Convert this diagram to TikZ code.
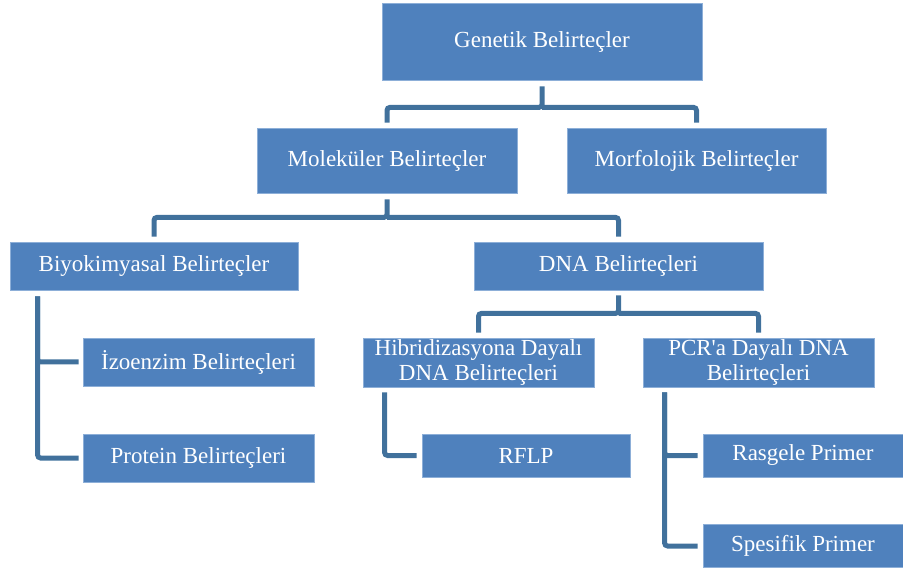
\documentclass[tikz,border=0pt]{standalone}
\usepackage{fontspec}
\setmainfont{Liberation Serif}
\definecolor{boxfill}{HTML}{4F81BD}
\definecolor{boxedge}{HTML}{8DAFD8}
\definecolor{linecol}{HTML}{41719C}
\begin{document}
\begin{tikzpicture}[x=1pt,y=-1pt,
  box/.style={rectangle,fill=boxfill,draw=boxedge,line width=0.8pt,text=white,
    inner sep=0pt,align=center,font=\fontsize{23}{25}\selectfont},
  conn/.style={draw=linecol,line width=5pt,rounded corners=3pt}]
\useasboundingbox (0,0) rectangle (903,569);
\node[box,minimum width=320,minimum height=77] (G) at (542,41.5) {Genetik Belirteçler};
\node[box,minimum width=260,minimum height=65] (Mo) at (387,160.5) {Moleküler Belirteçler};
\node[box,minimum width=259,minimum height=65] (Mf) at (696.5,160.5) {Morfolojik Belirteçler};
\node[box,minimum width=288,minimum height=48] (B) at (154,266) {Biyokimyasal Belirteçler};
\node[box,minimum width=289,minimum height=48] (D) at (618.5,266) {DNA Belirteçleri};
\node[box,minimum width=231,minimum height=48] (Iz) at (198.5,362) {İzoenzim Belirteçleri};
\node[box,minimum width=231,minimum height=48] (Pr) at (198.5,458) {Protein Belirteçleri};
\node[box,minimum width=231,minimum height=49] (H) at (478.5,362.5) {Hibridizasyona Dayalı\\DNA Belirteçleri};
\node[box,minimum width=231,minimum height=49] (P) at (758.5,362.5) {PCR\textquotesingle a Dayalı DNA\\Belirteçleri};
\node[box,minimum width=208,minimum height=43] (R) at (526,455.5) {RFLP};
\node[box,minimum width=200,minimum height=43] (Ra) at (803,455.5) {Rasgele Primer};
\node[box,minimum width=200,minimum height=43] (Sp) at (803,546) {Spesifik Primer};

\draw[conn] ([yshift=-6pt]G.south) -- ([yshift=-27pt]G.south) -| ([yshift=5pt]Mo.north);
\draw[conn] ([yshift=-27pt]G.south) -| ([yshift=5pt]Mf.north);
\draw[conn] ([yshift=-6pt]Mo.south) -- ([yshift=-24pt]Mo.south) -| ([yshift=5pt]B.north);
\draw[conn] ([yshift=-24pt]Mo.south) -| ([yshift=5pt]D.north);
\draw[conn] ([yshift=-5pt]D.south) -- ([yshift=-23pt]D.south) -| ([yshift=5pt]H.north);
\draw[conn] ([yshift=-23pt]D.south) -| ([yshift=5pt]P.north);
\draw[conn] ([xshift=28pt,yshift=-6pt]B.south west) |- ([xshift=-4pt]Iz.west);
\draw[conn] ([xshift=28pt,yshift=-6pt]B.south west) |- ([xshift=-4pt]Pr.west);
\draw[conn] ([xshift=22pt,yshift=-5pt]H.south west) |- ([xshift=-5pt]R.west);
\draw[conn] ([xshift=22pt,yshift=-5pt]P.south west) |- ([xshift=-5pt]Ra.west);
\draw[conn] ([xshift=22pt,yshift=-5pt]P.south west) |- ([xshift=-5pt]Sp.west);
\end{tikzpicture}
\end{document}
